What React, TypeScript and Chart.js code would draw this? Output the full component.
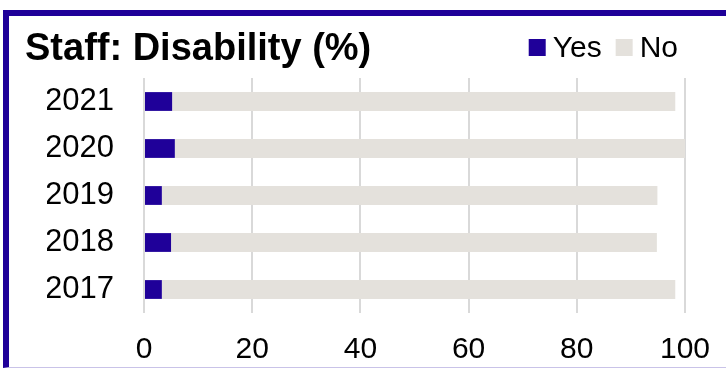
import React, { useEffect, useRef } from "react";
import { Chart, registerables } from "chart.js";

Chart.register(...registerables);

// Survey years, newest first (top row of the chart)
const years: string[] = ["2021", "2020", "2019", "2018", "2017"];
// Share of staff reporting a disability (%)
const yesValues: number[] = [5.2, 5.7, 3.3, 5.0, 3.3];
// Share of staff reporting no disability (%)
const noValues: number[] = [93.0, 94.3, 91.6, 89.8, 94.9];
const xTicks: number[] = [0, 20, 40, 60, 80, 100];

const TITLE = "Staff: Disability (%)";
const FONT = '"Liberation Sans", Arial, Helvetica, sans-serif';
const BLUE = "#1f0099";
const GREY = "#e4e1dc";

// Draws the bold title on the left and a compact legend on the right of the same row
const headerPlugin = {
  id: "header",
  afterDraw(chart: Chart) {
    const ctx = chart.ctx;
    ctx.save();
    ctx.fillStyle = "#000";
    ctx.font = `bold 38px ${FONT}`;
    ctx.textAlign = "left";
    ctx.textBaseline = "alphabetic";
    ctx.fillText(TITLE, 25, 60);

    ctx.font = `30px ${FONT}`;
    const box = 17;
    const gap = 7;
    const itemGap = 14;
    const items = chart.data.datasets.map((ds) => ({
      label: String(ds.label),
      color: String(ds.backgroundColor),
      w: ctx.measureText(String(ds.label)).width,
    }));
    const total =
      items.reduce((s, it) => s + box + gap + it.w, 0) + itemGap * (items.length - 1);
    let x = 678 - total;
    const midY = 47.5;
    items.forEach((it) => {
      ctx.fillStyle = it.color;
      ctx.fillRect(x, midY - box / 2, box, box);
      x += box + gap;
      ctx.fillStyle = "#000";
      ctx.textBaseline = "middle";
      ctx.fillText(it.label, x, midY + 1);
      x += it.w + itemGap;
    });
    ctx.restore();
  },
};

export default function App() {
  const canvasRef = useRef<HTMLCanvasElement | null>(null);

  useEffect(() => {
    const canvas = canvasRef.current;
    if (!canvas) return;
    const chart = new Chart(canvas, {
      type: "bar",
      data: {
        labels: years,
        datasets: [
          {
            label: "Yes",
            data: yesValues,
            backgroundColor: BLUE,
            categoryPercentage: 0.8,
            barPercentage: 0.5,
          },
          {
            label: "No",
            data: noValues,
            backgroundColor: GREY,
            categoryPercentage: 0.8,
            barPercentage: 0.5,
          },
        ],
      },
      options: {
        indexAxis: "y",
        animation: false,
        responsive: true,
        maintainAspectRatio: false,
        layout: { padding: { top: 78, left: 47, right: 41, bottom: 2 } },
        plugins: {
          legend: { display: false },
          title: { display: false },
          tooltip: { enabled: false },
        },
        scales: {
          x: {
            stacked: true,
            min: 0,
            max: 100,
            afterBuildTicks: (scale: any) => {
              scale.ticks = xTicks.map((v) => ({ value: v }));
            },
            afterFit: (scale: any) => {
              // fixed axis band; edge labels may overhang into the layout padding
              scale.height = 54;
              scale.paddingLeft = 0;
              scale.paddingRight = 0;
            },
            grid: { color: "#d9d9d9", lineWidth: 2, drawTicks: false },
            border: { display: false },
            ticks: {
              padding: 22,
              color: "#000",
              font: { family: FONT, size: 30, lineHeight: 1 },
              maxRotation: 0,
            },
          },
          y: {
            stacked: true,
            afterFit: (scale: any) => {
              scale.width = 97;
            },
            grid: { display: false, drawTicks: false },
            border: { display: false },
            ticks: {
              padding: 30,
              color: "#000",
              font: { family: FONT, size: 31 },
            },
          },
        },
      },
      plugins: [headerPlugin],
    });
    return () => chart.destroy();
  }, []);

  return (
    <div
      style={{
        position: "fixed",
        left: 0,
        top: 0,
        width: 726,
        height: 369,
        overflow: "hidden",
        background: "#fff",
      }}
    >
      <div
        style={{
          position: "absolute",
          left: 3,
          top: 10,
          width: 760,
          height: 351,
          borderLeft: `6px solid ${BLUE}`,
          borderTop: `6px solid ${BLUE}`,
          borderBottom: "1px solid #c9c3e8",
        }}
      />
      <div style={{ position: "absolute", left: 0, top: 0, width: 726, height: 369 }}>
        <canvas ref={canvasRef} />
      </div>
    </div>
  );
}
